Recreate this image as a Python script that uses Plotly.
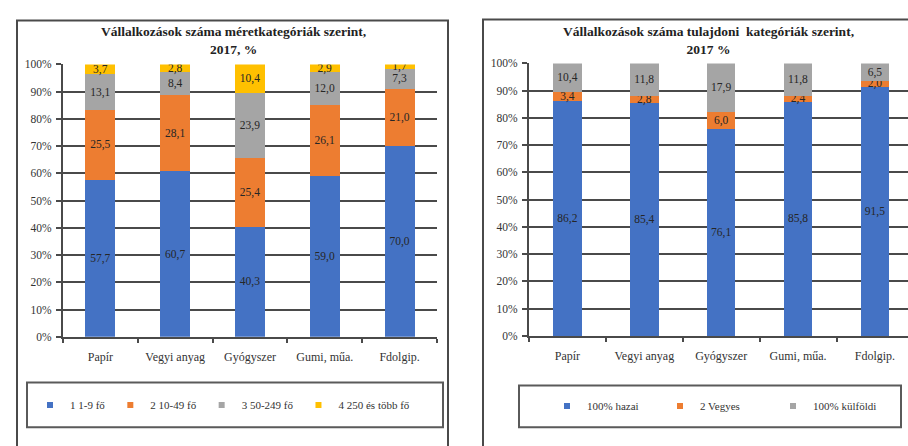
import plotly.graph_objects as go

W, H = 908, 446

categories = ["Papír", "Vegyi anyag", "Gyógyszer", "Gumi, műa.", "Fdolgip."]

# Left chart: by size category (%)
size_names = ["1 1-9 fő", "2 10-49 fő", "3 50-249 fő", "4 250 és több fő"]
size_1_9 = [57.7, 60.7, 40.3, 59.0, 70.0]
size_10_49 = [25.5, 28.1, 25.4, 26.1, 21.0]
size_50_249 = [13.1, 8.4, 23.9, 12.0, 7.3]
size_250 = [3.7, 2.8, 10.4, 2.9, 1.7]

# Right chart: by ownership category (%)
own_names = ["100% hazai", "2 Vegyes", "100% külföldi"]
own_domestic = [86.2, 85.4, 76.1, 85.8, 91.5]
own_mixed = [3.4, 2.8, 6.0, 2.4, 2.0]
own_foreign = [10.4, 11.8, 17.9, 11.8, 6.5]

title_left = "Vállalkozások száma méretkategóriák szerint,<br>2017, %"
title_right = "Vállalkozások száma tulajdoni  kategóriák szerint,<br>2017 %"

colors4 = ["#4472C4", "#ED7D31", "#A5A5A5", "#FFC000"]
colors3 = ["#4472C4", "#ED7D31", "#A5A5A5"]

FONT = "Liberation Serif"
DARK = "#333333"
GRID = "#4a4a4a"


def px_x(p):
    return p / W


def px_y(p):
    return 1 - p / H


fig = go.Figure()

for name, vals, col in zip(size_names, [size_1_9, size_10_49, size_50_249, size_250], colors4):
    fig.add_trace(go.Bar(
        x=categories, y=vals, name=name, width=0.4, marker=dict(color=col, line=dict(width=0)),
        texttemplate="%{y:.1f}", textposition="inside", insidetextanchor="middle",
        textangle=0, constraintext="none",
        textfont=dict(family=FONT, size=11.5, color="#262626"),
        showlegend=False, xaxis="x", yaxis="y", hoverinfo="x+y+name"))
    fig.add_trace(go.Scatter(
        x=[None], y=[None], mode="markers", name=name,
        marker=dict(symbol="square", size=6, color=col),
        legend="legend", xaxis="x", yaxis="y"))

for name, vals, col in zip(own_names, [own_domestic, own_mixed, own_foreign], colors3):
    fig.add_trace(go.Bar(
        x=categories, y=vals, name=name, width=0.37, marker=dict(color=col, line=dict(width=0)),
        texttemplate="%{y:.1f}", textposition="inside", insidetextanchor="middle",
        textangle=0, constraintext="none",
        textfont=dict(family=FONT, size=11.5, color="#262626"),
        showlegend=False, xaxis="x2", yaxis="y2", hoverinfo="x+y+name"))
    fig.add_trace(go.Scatter(
        x=[None], y=[None], mode="markers", name=name,
        marker=dict(symbol="square", size=6, color=col),
        legend="legend2", xaxis="x2", yaxis="y2"))

yax = dict(range=[0, 100], dtick=10, ticksuffix="%", showgrid=True, gridcolor=GRID, gridwidth=2,
           showline=True, linecolor=GRID, linewidth=2, ticks="outside", ticklen=5,
           tickcolor=GRID, tickwidth=2, zeroline=False, ticklabelstandoff=2,
           tickfont=dict(family=FONT, size=11.5, color=DARK), fixedrange=True)
xax = dict(type="category", showline=True, linecolor=GRID, linewidth=2, ticks="outside",
           tickson="boundaries", ticklen=4, tickcolor=GRID, tickwidth=1.5, showgrid=False,
           ticklabelstandoff=8,
           tickfont=dict(family=FONT, size=12, color=DARK), fixedrange=True)

shapes = [
    dict(type="rect", xref="paper", yref="paper", x0=px_x(17), x1=px_x(448), y0=px_y(460), y1=px_y(15),
         line=dict(color="#4a4a4a", width=2), fillcolor="rgba(0,0,0,0)", layer="below"),
    dict(type="rect", xref="paper", yref="paper", x0=px_x(483), x1=px_x(925), y0=px_y(460), y1=px_y(14),
         line=dict(color="#4a4a4a", width=2), fillcolor="rgba(0,0,0,0)", layer="below"),
    dict(type="rect", xref="paper", yref="paper", x0=px_x(27), x1=px_x(443), y0=px_y(433), y1=px_y(387),
         line=dict(color="#5a5a5a", width=2), fillcolor="rgba(0,0,0,0)"),
    dict(type="rect", xref="paper", yref="paper", x0=px_x(519), x1=px_x(901), y0=px_y(433), y1=px_y(390),
         line=dict(color="#5a5a5a", width=2), fillcolor="rgba(0,0,0,0)"),
]

annotations = [
    dict(text="<b>" + title_left + "</b>", xref="paper", yref="paper", x=px_x(233), y=px_y(35),
         xanchor="center", yanchor="middle", showarrow=False,
         font=dict(family=FONT, size=13.5, color="#222222")),
    dict(text="<b>" + title_right + "</b>", xref="paper", yref="paper", x=px_x(708), y=px_y(35),
         xanchor="center", yanchor="middle", showarrow=False,
         font=dict(family=FONT, size=13.5, color="#222222")),
]

fig.update_layout(
    width=W, height=H, margin=dict(l=0, r=0, t=0, b=0),
    paper_bgcolor="white", plot_bgcolor="white",
    barmode="stack", separators=",.",
    font=dict(family=FONT, color=DARK),
    xaxis=dict(xax, domain=[px_x(63), px_x(437)], anchor="y"),
    yaxis=dict(yax, domain=[px_y(340), px_y(60)], anchor="x"),
    xaxis2=dict(xax, domain=[px_x(529), 1.0], anchor="y2", range=[-0.5, 4.43]),
    yaxis2=dict(yax, domain=[px_y(339), px_y(59)], anchor="x2"),
    legend=dict(orientation="h", x=px_x(30), y=px_y(410), xanchor="left", yanchor="middle",
                traceorder="normal", bgcolor="rgba(0,0,0,0)", borderwidth=0,
                font=dict(family=FONT, size=11, color=DARK)),
    legend2=dict(orientation="h", x=px_x(547), y=px_y(411), xanchor="left", yanchor="middle",
                 traceorder="normal", bgcolor="rgba(0,0,0,0)", borderwidth=0, entrywidth=68,
                 font=dict(family=FONT, size=11, color=DARK)),
    shapes=shapes, annotations=annotations,
)

fig.write_html("out.html", config={"displayModeBar": False},
               post_script="document.body.style.margin='0';document.body.style.overflow='hidden';")
